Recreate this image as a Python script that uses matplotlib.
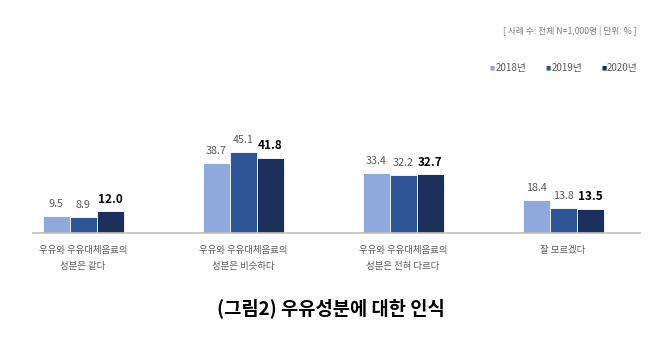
import numpy as np
import matplotlib
matplotlib.use('Agg')
import matplotlib.pyplot as plt

plt.rcParams['font.family'] = ['Liberation Sans Narrow', 'Noto Sans CJK KR', 'DejaVu Sans']

categories = ['우유와 우유대체음료의\n성분은 같다', '우유와 우유대체음료의\n성분은 비슷하다',
              '우유와 우유대체음료의\n성분은 전혀 다르다', '잘 모르겠다']
years = ['2018년', '2019년', '2020년']
v2018 = [9.5, 38.7, 33.4, 18.4]
v2019 = [8.9, 45.1, 32.2, 13.8]
v2020 = [12.0, 41.8, 32.7, 13.5]
colors = ['#8eaadb', '#2f5597', '#1c2f5c']

W, H = 671, 344
fig = plt.figure(figsize=(W / 100, H / 100), dpi=100)
ax = fig.add_axes([0, 111 / H, 1, 90 / H])
ax.set_xlim(-83 / 160, (W - 83) / 160)
ax.set_ylim(0, 50)
for s in ax.spines.values():
    s.set_visible(False)
ax.set_yticks([])

x = np.arange(len(categories))
w = 27 / 160
for i, (vals, c) in enumerate(zip([v2018, v2019, v2020], colors)):
    bars = ax.bar(x + (i - 1) * w, vals, w, color=c, edgecolor='white', linewidth=0.6, clip_on=False)
    for b, v in zip(bars, vals):
        if i == 2:
            ax.annotate(f'{v:.1f}', (b.get_x() + b.get_width() / 2, v), xytext=(0, 4),
                        textcoords='offset points', ha='center', va='bottom',
                        fontsize=8.5, fontweight='bold', color='black')
        else:
            ax.annotate(f'{v:.1f}', (b.get_x() + b.get_width() / 2, v), xytext=(0, 5),
                        textcoords='offset points', ha='center', va='bottom',
                        fontsize=7.8, color='#595959')

ax.plot([-50 / 160, (640 - 83) / 160], [0, 0], color='#bfbfbf', lw=1.2, clip_on=False)
ax.set_xticks(x)
ax.set_xticklabels(categories, fontsize=6.8, color='#595959', linespacing=2.0)
ax.tick_params(axis='x', length=0, pad=9)

fig.text(637 / W, 1 - 31 / H, '[ 사례 수: 전체 N=1,000명 | 단위: % ]', ha='right', va='center',
         fontsize=6.3, color='#7f7f7f')
lx = [490, 546, 601]
for px, yr, c in zip(lx, years, colors):
    fig.text(px / W, 1 - 68 / H, '■', ha='left', va='center', fontsize=4,
             color=c, family='DejaVu Sans')
    fig.text((px + 6) / W, 1 - 68 / H, yr, ha='left', va='center', fontsize=7, color='#595959')

fig.text(331 / W, 1 - 308 / H, '(그림2) 우유성분에 대한 인식', ha='center', va='center',
         fontsize=13.5, fontweight='bold', color='black', family=['Noto Sans CJK KR'])

fig.savefig('out.png', dpi=100)
